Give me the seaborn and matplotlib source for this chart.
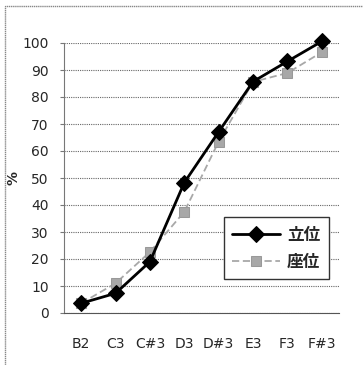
import numpy as np
import pandas as pd
import matplotlib
matplotlib.use('Agg')
import matplotlib.pyplot as plt
import seaborn as sns
from matplotlib.patches import Rectangle

sns.set_style('white')
plt.rcParams['font.family'] = ['DejaVu Sans', 'Noto Sans CJK JP']

# 데이터
notes = ['B2', 'C3', 'C#3', 'D3', 'D#3', 'E3', 'F3', 'F#3']
standing = [3.6, 7.3, 19.0, 48.3, 67.1, 85.7, 93.2, 100.6]
sitting = [3.6, 11.0, 22.6, 37.5, 63.5, 85.6, 88.9, 96.6]
series_names = ['立位', '座位']

df = pd.DataFrame({'note': notes * 2,
                   'value': standing + sitting,
                   'pose': [series_names[0]] * len(notes) + [series_names[1]] * len(notes)})

fig = plt.figure(figsize=(3.63, 3.65), dpi=100)
ax = fig.add_axes([64/363, 1-313/365, 275/363, 270/365])

sns.lineplot(data=df[df.pose == '立位'], x='note', y='value', ax=ax,
             color='black', lw=2, marker='D', markersize=8,
             markeredgecolor='black', label='立位', clip_on=False, zorder=4)
sns.lineplot(data=df[df.pose == '座位'], x='note', y='value', ax=ax,
             color='#a8a8a8', lw=1.3, linestyle=(0, (4, 2)), marker='s', markersize=7,
             markeredgecolor='#999999', label='座位', clip_on=False, zorder=3)

ax.set_xlim(-0.5, len(notes) - 0.5)
ax.set_ylim(0, 100)
ax.set_yticks(np.arange(0, 101, 10))
ax.yaxis.grid(True, color='#666666', linestyle=(0, (1, 1)), lw=0.8)
ax.set_axisbelow(True)
for s in ['top', 'right']:
    ax.spines[s].set_visible(False)
ax.spines['left'].set_color('#777777')
ax.spines['bottom'].set_color('#555555')
ax.tick_params(axis='y', left=True, length=3, width=0.8, color='#777777', labelsize=10, pad=8)
ax.tick_params(axis='x', bottom=False, labelsize=10, pad=14)
ax.set_xlabel('')
ax.set_ylabel('%', fontsize=10, fontweight='bold', labelpad=1)

leg = ax.legend(loc='upper left', bbox_to_anchor=(0.55, 0.385), fancybox=False,
                edgecolor='#333333', framealpha=1, handlelength=2.9,
                borderpad=0.5, labelspacing=0.55, handletextpad=0.4,
                prop={'family': ['Noto Sans CJK JP'], 'size': 12, 'weight': 'bold'})
leg.get_frame().set_linewidth(1)

# 바깥 테두리
fig.patches.append(Rectangle((5/363, -0.1), 1.1, 1 - 6/365 + 0.1, transform=fig.transFigure,
                             fill=False, edgecolor='#888888', lw=1, linestyle=(0, (1, 0.5))))

plt.savefig('out.png', dpi=100)
